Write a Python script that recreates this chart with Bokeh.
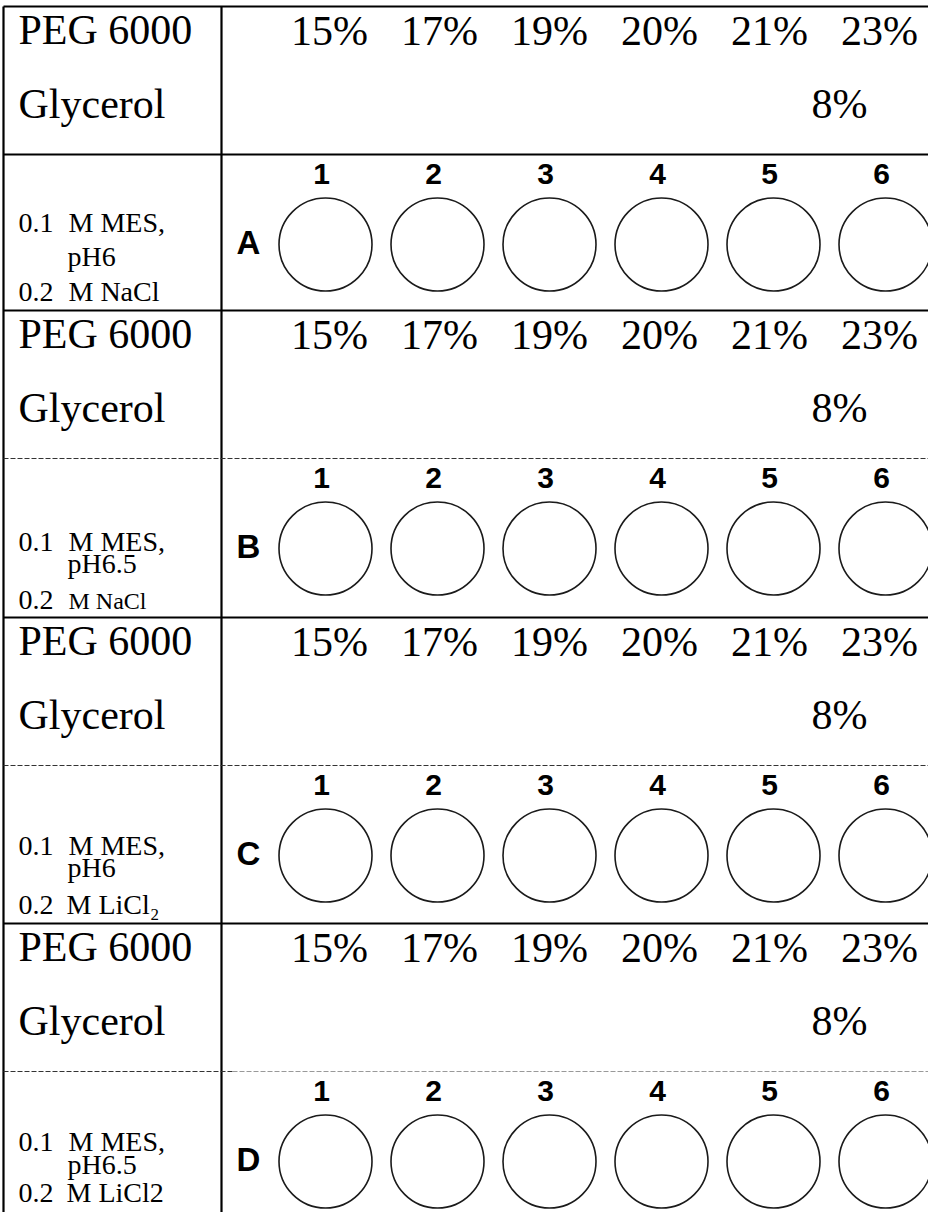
from bokeh.plotting import figure
from bokeh.models import Range1d
from bokeh.core.properties import value
from bokeh.embed import file_html
from bokeh.resources import INLINE

# ---------------- data ----------------
peg_label = "PEG 6000"
glycerol_label = "Glycerol"
peg_percent = ["15%", "17%", "19%", "20%", "21%", "23%"]
glycerol_percent = "8%"
col_numbers = ["1", "2", "3", "4", "5", "6"]
row_letters = ["A", "B", "C", "D"]
buffer_conc = ["0.1", "0.1", "0.1", "0.1"]
buffer_name = ["M MES,", "M MES,", "M MES,", "M MES,"]
ph_values = ["pH6", "pH6.5", "pH6", "pH6.5"]
salt_conc = ["0.2", "0.2", "0.2", "0.2"]
salt_name = ["M NaCl", "M NaCl", "M LiCl\u2082", "M LiCl2"]

# ---------------- layout (reference pixel coordinates) ----------------
W, H = 928, 1212
SERIF = value("Liberation Serif")
SANS = value("Liberation Sans")
block_top = [14, 318, 625, 931]
HEADER_H = 148
X_LEFT, X_DIV, X_RIGHT, Y_BOTTOM = 11, 229, 944, 1240
col_x = [333 + 112 * i for i in range(6)]
pct_x = [337 + 110 * i for i in range(6)]
num_x = [c - 4 for c in col_x]
line1_off = [227, 242, 239, 229]
ph_off = [261, 264, 261, 252]
salt_off = [296, 300, 298, 280]
salt_x = [76, 76, 74, 74]
salt_size = [28, 24, 28, 28]
BASE_K = 0.38  # correction of the rendered baseline position


def by(y, size):
    return y - BASE_K * size


p = figure(width=W, height=H, x_range=Range1d(8, 8 + W), y_range=Range1d(8 + H, 8),
           output_backend="svg", toolbar_location=None,
           x_axis_location=None, y_axis_location=None, min_border=0)
p.grid.visible = False
p.outline_line_color = None
p.background_fill_color = "white"
p.border_fill_color = "white"

# frame lines
p.segment(x0=[X_LEFT, X_LEFT, X_DIV], y0=[14, 14, 14], x1=[X_RIGHT, X_LEFT, X_DIV],
          y1=[14, Y_BOTTOM, Y_BOTTOM], line_color="black", line_width=2.2)
solid_y = [block_top[0] + HEADER_H] + block_top[1:]
p.segment(x0=[X_LEFT] * len(solid_y), y0=solid_y, x1=[X_RIGHT] * len(solid_y), y1=solid_y,
          line_color="black", line_width=2.2)
dash_y = [t + HEADER_H for t in block_top[1:]]
p.segment(x0=[X_LEFT, X_LEFT], y0=dash_y[:2], x1=[X_RIGHT, X_RIGHT], y1=dash_y[:2],
          line_color="#333333", line_width=1, line_dash="5 2")
p.segment(x0=[X_LEFT], y0=[dash_y[2]], x1=[240], y1=[dash_y[2]],
          line_color="#333333", line_width=1, line_dash="5 2")
p.segment(x0=[240], y0=[dash_y[2]], x1=[X_RIGHT], y1=[dash_y[2]],
          line_color="#999999", line_width=1, line_dash="5 2")


def txt(x, y, s, size, font=SERIF, align="left", bold=False):
    p.text(x=x, y=y, text=s, text_font=font, text_font_size=value("%dpx" % size),
           text_align=align, text_baseline="alphabetic", text_color="black",
           text_font_style="bold" if bold else "normal")


for b, top in enumerate(block_top):
    # header
    txt([26], [by(top + 39, 42)], [peg_label], 42)
    txt([26], [by(top + 113, 42)], [glycerol_label], 42)
    txt(pct_x, [by(top + 40, 42)] * 6, peg_percent, 42, align="center")
    txt([847], [by(top + 113, 42)], [glycerol_percent], 42, align="center")
    # buffer description
    txt([26], [by(top + line1_off[b], 28)], [buffer_conc[b]], 28)
    txt([76], [by(top + line1_off[b], 28)], [buffer_name[b]], 28)
    txt([75], [by(top + ph_off[b], 28)], [ph_values[b]], 28)
    txt([26], [by(top + salt_off[b], 28)], [salt_conc[b]], 28)
    txt([salt_x[b]], [by(top + salt_off[b], salt_size[b])], [salt_name[b]], salt_size[b])
    # wells
    txt(num_x, [by(top + 179, 30)] * 6, col_numbers, 30, font=SANS, align="center", bold=True)
    txt([256], [by(top + 249, 33)], [row_letters[b]], 33, font=SANS, align="center", bold=True)
    p.circle(x=col_x, y=[top + 238] * 6, radius=46.5, fill_color="white",
             line_color="#1a1a1a", line_width=1.6)

open("out.html", "w").write(file_html(p, INLINE))
